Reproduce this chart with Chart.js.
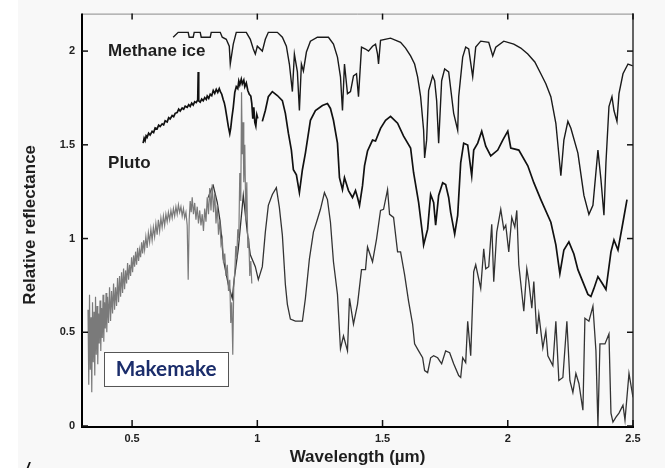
<!DOCTYPE html>
<html><head><meta charset="utf-8">
<script src="https://cdn.jsdelivr.net/npm/chart.js@4.4.0/dist/chart.umd.min.js"></script>
<style>html,body{margin:0;padding:0;background:#fff}canvas{display:block}</style>
</head><body>
<canvas id="c" width="665" height="468"></canvas>
<script>
// ---- data (wavelength in µm, relative reflectance) ----
const xTicks = [0.5, 1, 1.5, 2, 2.5];
const yTicks = [0, 0.5, 1, 1.5, 2];

const methaneIce = [
[0.664,2.074],[0.684,2.100],[0.724,2.100],[0.728,2.074],[0.744,2.074],[0.748,2.100],[0.772,2.100],[0.776,2.074],
[0.812,2.074],[0.816,2.100],[0.852,2.100],[0.860,2.074],[0.876,2.063],[0.888,2.026],[0.892,1.931],[0.904,2.037],
[0.916,2.100],[0.956,2.100],[0.972,2.063],[0.984,2.011],[0.992,1.984],[1.000,2.026],[1.020,2.000],[1.032,2.063],
[1.044,2.100],[1.080,2.100],[1.100,2.074],[1.116,2.026],[1.128,1.931],[1.140,1.784],[1.148,1.984],[1.160,1.889],
[1.168,1.683],[1.176,1.931],[1.184,1.894],[1.196,1.995],[1.212,2.053],[1.240,2.074],[1.284,2.074],[1.304,2.037],
[1.320,1.968],[1.332,1.863],[1.340,1.683],[1.348,1.931],[1.360,1.773],[1.372,1.784],[1.384,1.868],[1.396,1.879],
[1.404,1.757],[1.416,2.021],[1.432,2.011],[1.444,2.000],[1.460,2.026],[1.472,2.037],[1.480,1.984],[1.484,1.931],
[1.492,2.058],[1.532,2.069],[1.572,2.047],[1.592,2.016],[1.612,1.974],[1.628,1.931],[1.640,1.863],[1.652,1.757],
[1.664,1.578],[1.668,1.430],[1.676,1.525],[1.684,1.789],[1.700,1.868],[1.708,1.842],[1.716,1.736],[1.724,1.509],
[1.736,1.842],[1.748,1.905],[1.764,1.889],[1.784,1.668],[1.800,1.578],[1.804,1.757],[1.820,1.968],[1.832,2.021],
[1.844,2.011],[1.860,1.863],[1.872,2.021],[1.892,2.053],[1.924,2.047],[1.940,1.974],[1.952,2.021],[1.984,2.053],
[2.024,2.037],[2.052,2.016],[2.080,1.984],[2.108,1.942],[2.132,1.879],[2.152,1.826],[2.172,1.757],[2.192,1.615],
[2.212,1.335],[2.224,1.525],[2.240,1.625],[2.252,1.588],[2.280,1.456],[2.304,1.230],[2.324,1.129],[2.340,1.177],
[2.360,1.472],[2.372,1.314],[2.384,1.124],[2.392,1.404],[2.404,1.704],[2.416,1.757],[2.424,1.683],[2.436,1.625],
[2.444,1.773],[2.460,1.879],[2.480,1.931],[2.500,1.921]
];

const pluto = [
[0.544,1.509],[0.548,1.535],[0.552,1.522],[0.556,1.548],[0.560,1.540],[0.566,1.562],[0.572,1.552],[0.580,1.572],
[0.586,1.565],[0.592,1.590],[0.600,1.585],[0.606,1.605],[0.612,1.598],[0.620,1.612],[0.626,1.606],[0.632,1.628],
[0.640,1.622],[0.646,1.645],[0.652,1.638],[0.660,1.656],[0.666,1.650],[0.672,1.668],[0.680,1.672],[0.686,1.690],
[0.692,1.680],[0.700,1.696],[0.706,1.690],[0.712,1.706],[0.720,1.700],[0.726,1.714],[0.732,1.705],[0.738,1.722],
[0.744,1.712],[0.750,1.730],[0.756,1.725],[0.762,1.740],[0.764,1.889],[0.766,1.735],[0.772,1.728],[0.778,1.744],
[0.784,1.735],[0.790,1.752],[0.796,1.742],[0.800,1.760],[0.806,1.748],[0.812,1.770],[0.818,1.762],[0.824,1.790],
[0.830,1.774],[0.836,1.796],[0.842,1.780],[0.848,1.800],[0.852,1.785],[0.858,1.770],[0.864,1.740],[0.868,1.725],
[0.872,1.700],[0.878,1.650],[0.884,1.600],[0.890,1.560],[0.894,1.590],[0.898,1.640],[0.904,1.700],[0.910,1.780],
[0.916,1.810],[0.922,1.800],[0.926,1.840],[0.930,1.820],[0.936,1.850],[0.940,1.825],[0.946,1.845],[0.950,1.810],
[0.956,1.830],[0.962,1.790],[0.968,1.770],[0.974,1.760],[0.978,1.720],[0.982,1.640],[0.986,1.700],[0.990,1.620],
[0.994,1.600],[0.998,1.660],[1.002,1.640],[1.010,null],
[1.020,1.625],[1.032,1.683],[1.044,1.757],[1.060,1.784],[1.080,1.763],[1.100,1.736],[1.112,1.668],[1.124,1.562],
[1.136,1.472],[1.144,1.367],[1.156,1.340],[1.168,1.245],[1.180,1.367],[1.192,1.456],[1.212,1.631],[1.232,1.683],
[1.260,1.710],[1.280,1.720],[1.292,1.694],[1.304,1.631],[1.320,1.509],[1.328,1.325],[1.340,1.261],[1.348,1.325],
[1.364,1.256],[1.380,1.219],[1.392,1.256],[1.400,1.219],[1.408,1.177],[1.420,1.282],[1.428,1.388],[1.440,1.467],
[1.460,1.525],[1.472,1.520],[1.492,1.588],[1.512,1.631],[1.532,1.652],[1.560,1.615],[1.584,1.546],[1.612,1.483],
[1.624,1.351],[1.644,1.193],[1.660,1.018],[1.664,0.966],[1.680,1.050],[1.692,1.235],[1.704,1.193],[1.712,1.071],
[1.724,1.230],[1.740,1.298],[1.752,1.288],[1.764,1.219],[1.772,1.140],[1.788,1.024],[1.800,1.124],[1.812,1.404],
[1.824,1.509],[1.840,1.499],[1.856,1.335],[1.864,1.472],[1.880,1.509],[1.896,1.573],[1.912,1.493],[1.932,1.441],
[1.960,1.472],[1.980,1.525],[2.000,1.573],[2.012,1.483],[2.044,1.472],[2.080,1.388],[2.104,1.298],[2.132,1.208],
[2.172,1.087],[2.192,0.966],[2.208,0.813],[2.224,0.939],[2.244,0.982],[2.264,0.918],[2.280,0.834],[2.320,0.702],
[2.332,0.691],[2.344,0.734],[2.360,0.797],[2.380,0.755],[2.392,0.728],[2.412,0.929],[2.424,0.992],[2.440,0.939],
[2.460,1.087],[2.476,1.208]
];

const makemakeNIR = [
[0.804,1.219],[0.816,1.261],[0.824,1.282],[0.840,1.193],[0.852,1.087],[0.864,0.892],[0.884,0.755],[0.900,0.681],
[0.908,0.786],[0.924,0.945],[0.944,1.230],[0.960,1.034],[0.972,0.913],[0.992,0.850],[1.004,0.781],[1.020,0.850],
[1.032,1.034],[1.044,1.177],[1.060,1.235],[1.076,1.272],[1.088,1.166],[1.100,1.018],[1.112,0.755],[1.120,0.649],
[1.132,0.570],[1.152,0.559],[1.180,0.559],[1.192,0.681],[1.208,0.892],[1.224,1.034],[1.240,1.103],[1.252,1.156],
[1.268,1.245],[1.280,1.208],[1.292,1.087],[1.304,0.876],[1.320,0.702],[1.332,0.412],[1.344,0.480],[1.360,0.401],
[1.368,0.681],[1.384,0.544],[1.400,0.649],[1.416,0.834],[1.432,0.834],[1.440,0.955],[1.460,0.876],[1.476,0.997],
[1.492,1.150],[1.504,1.156],[1.520,1.261],[1.528,1.129],[1.544,1.113],[1.560,0.929],[1.572,0.929],[1.588,0.807],
[1.604,0.665],[1.620,0.544],[1.628,0.438],[1.644,0.401],[1.660,0.364],[1.668,0.296],[1.680,0.285],[1.692,0.364],
[1.704,0.375],[1.720,0.364],[1.736,0.332],[1.752,0.401],[1.768,0.391],[1.784,0.332],[1.804,0.269],[1.812,0.259],
[1.820,0.364],[1.832,0.338],[1.840,0.559],[1.852,0.375],[1.864,0.823],[1.872,0.860],[1.892,0.734],[1.904,0.945],
[1.912,0.839],[1.924,0.850],[1.936,1.076],[1.944,0.770],[1.956,1.034],[1.972,1.156],[1.984,1.050],[1.992,1.071],
[2.004,0.929],[2.016,1.113],[2.028,1.061],[2.036,1.150],[2.044,0.860],[2.064,0.612],[2.076,0.839],[2.084,0.770],
[2.096,0.628],[2.104,0.770],[2.116,0.491],[2.124,0.596],[2.140,0.417],[2.152,0.507],[2.160,0.375],[2.180,0.322],
[2.192,0.559],[2.204,0.243],[2.220,0.259],[2.236,0.559],[2.248,0.243],[2.260,0.179],[2.272,0.280],[2.284,0.227],
[2.300,0.084],[2.308,0.575],[2.324,0.559],[2.340,0.639],[2.352,0.401],[2.360,0.000],[2.368,0.438],[2.388,0.438],
[2.404,0.491],[2.412,0.069],[2.420,0.021],[2.432,0.047],[2.444,0.069],[2.460,0.111],[2.468,0.032],[2.484,0.280],
[2.500,0.153]
];

const makemakeVisible = [
[0.324,0.62],[0.327,0.22],[0.330,0.70],[0.333,0.30],[0.336,0.58],[0.339,0.18],[0.342,0.66],[0.345,0.34],
[0.348,0.61],[0.351,0.27],[0.354,0.69],[0.357,0.38],[0.360,0.64],[0.363,0.33],[0.366,0.60],[0.369,0.44],
[0.372,0.67],[0.375,0.40],[0.378,0.63],[0.381,0.47],[0.384,0.70],[0.387,0.45],[0.390,0.66],[0.393,0.52],
[0.396,0.71],[0.399,0.50],[0.402,0.69],[0.406,0.55],[0.410,0.74],[0.414,0.56],[0.418,0.72],[0.422,0.60],
[0.426,0.76],[0.430,0.62],[0.434,0.74],[0.438,0.64],[0.442,0.79],[0.446,0.66],[0.450,0.80],[0.454,0.69],
[0.458,0.82],[0.462,0.71],[0.466,0.84],[0.470,0.73],[0.474,0.83],[0.478,0.76],[0.482,0.87],[0.486,0.78],
[0.490,0.86],[0.494,0.80],[0.498,0.90],[0.502,0.82],[0.506,0.91],[0.510,0.85],[0.514,0.93],[0.518,0.86],
[0.522,0.95],[0.526,0.88],[0.530,0.94],[0.534,0.90],[0.538,0.98],[0.542,0.92],[0.546,0.99],[0.550,0.94],
[0.555,1.01],[0.560,0.95],[0.565,1.03],[0.570,0.98],[0.575,1.05],[0.580,0.99],[0.585,1.06],[0.590,1.01],
[0.595,1.08],[0.600,1.02],[0.605,1.10],[0.610,1.04],[0.615,1.11],[0.620,1.06],[0.625,1.12],[0.630,1.07],
[0.635,1.13],[0.640,1.09],[0.645,1.14],[0.650,1.10],[0.655,1.15],[0.660,1.11],[0.665,1.16],[0.670,1.12],
[0.675,1.17],[0.680,1.13],[0.685,1.18],[0.690,1.14],[0.695,1.17],[0.700,1.12],[0.705,1.16],[0.710,1.11],
[0.715,1.14],[0.720,1.07],[0.724,0.78],[0.728,1.10],[0.732,1.20],[0.736,1.14],[0.740,1.22],[0.745,1.13],
[0.750,1.19],[0.755,1.10],[0.760,1.17],[0.765,1.08],[0.770,1.15],[0.775,1.07],[0.780,1.13],[0.785,1.04],
[0.790,1.16],[0.795,1.09],[0.800,1.22],[0.805,1.13],[0.810,1.27],[0.815,1.15],[0.820,1.29],[0.825,1.14],
[0.830,1.24],[0.835,1.08],[0.840,1.18],[0.845,1.02],[0.850,1.10],[0.855,0.97],[0.860,1.00],[0.865,0.87],
[0.870,0.92],[0.875,0.80],[0.880,0.86],[0.885,0.72],[0.890,0.78],[0.894,0.55],[0.898,0.66],[0.902,0.38],
[0.906,0.75],[0.910,0.82],[0.914,0.96],[0.918,0.90],[0.922,1.05],[0.926,1.00],[0.930,1.35],[0.934,1.20],
[0.937,1.78],[0.940,1.45],[0.943,1.62],[0.946,1.30],[0.950,1.50],[0.954,1.10],[0.958,1.30],[0.962,0.95],
[0.966,1.00],[0.970,0.80],[0.974,0.88],[0.978,0.76]
];

// ---- rendering ----
const toPts = arr => arr.map(([x, y]) => ({x, y}));
const FONT = '"Liberation Sans", Arial, sans-serif';

const deco = {
  id: 'deco',
  beforeDraw(chart) {
    const {ctx, width, height} = chart;
    ctx.save();
    ctx.fillStyle = '#ffffff';
    ctx.fillRect(0, 0, width, height);
    ctx.fillStyle = '#f8f8f8';
    ctx.fillRect(18, 0, width - 18, height);
    ctx.restore();
  },
  afterDraw(chart) {
    const {ctx, chartArea: a, scales: {x, y}} = chart;
    ctx.save();
    // frame
    ctx.lineCap = 'butt';
    ctx.strokeStyle = '#8a8a8a'; ctx.lineWidth = 1;
    ctx.beginPath(); ctx.moveTo(a.left, a.top + 0.5); ctx.lineTo(a.right, a.top + 0.5); ctx.stroke();
    ctx.strokeStyle = '#333'; ctx.lineWidth = 1.5;
    ctx.beginPath(); ctx.moveTo(a.right, a.top); ctx.lineTo(a.right, a.bottom); ctx.stroke();
    ctx.strokeStyle = '#000'; ctx.lineWidth = 2;
    ctx.beginPath(); ctx.moveTo(a.left, a.top); ctx.lineTo(a.left, a.bottom + 1); ctx.lineTo(a.right + 1, a.bottom + 1); ctx.stroke();
    // inward ticks
    ctx.strokeStyle = '#111'; ctx.lineWidth = 1.5;
    xTicks.forEach(v => {
      const px = x.getPixelForValue(v);
      ctx.beginPath(); ctx.moveTo(px, a.bottom); ctx.lineTo(px, a.bottom - 6); ctx.stroke();
      ctx.beginPath(); ctx.moveTo(px, a.top); ctx.lineTo(px, a.top + 6); ctx.stroke();
    });
    yTicks.forEach(v => {
      const py = y.getPixelForValue(v);
      ctx.beginPath(); ctx.moveTo(a.left, py); ctx.lineTo(a.left + 6, py); ctx.stroke();
      ctx.beginPath(); ctx.moveTo(a.right, py); ctx.lineTo(a.right - 6, py); ctx.stroke();
    });
    // series labels
    ctx.fillStyle = '#1e1e1e';
    ctx.font = 'bold 17px ' + FONT;
    ctx.textAlign = 'left'; ctx.textBaseline = 'middle';
    ctx.fillText('Methane ice', x.getPixelForValue(0.404), y.getPixelForValue(2.0));
    ctx.fillText('Pluto', x.getPixelForValue(0.404), y.getPixelForValue(1.40));
    // Makemake box
    const bx0 = x.getPixelForValue(0.388), bx1 = x.getPixelForValue(0.884);
    const by0 = y.getPixelForValue(0.396), by1 = y.getPixelForValue(0.216);
    ctx.fillStyle = '#ffffff';
    ctx.fillRect(bx0, by0, bx1 - bx0, by1 - by0);
    ctx.strokeStyle = '#555'; ctx.lineWidth = 1;
    ctx.strokeRect(Math.round(bx0) + 0.5, Math.round(by0) + 0.5, Math.round(bx1 - bx0), Math.round(by1 - by0));
    ctx.font = 'bold 20px Lato, "Noto Sans", sans-serif';
    const w20 = ctx.measureText('Makemake').width;
    const fs = 20 * 101 / w20;
    ctx.font = 'bold ' + fs.toFixed(1) + 'px Lato, "Noto Sans", sans-serif';
    ctx.fillStyle = '#1b2d6b';
    ctx.textAlign = 'center';
    ctx.fillText('Makemake', (bx0 + bx1) / 2, (by0 + by1) / 2 + 1);
    // axis titles
    ctx.fillStyle = '#1e1e1e';
    ctx.font = 'bold 17px ' + FONT;
    ctx.textAlign = 'center'; ctx.textBaseline = 'middle';
    ctx.fillText('Wavelength (\u00b5m)', (a.left + a.right) / 2, 457);
    ctx.save();
    ctx.translate(30, (a.top + a.bottom) / 2 + 5);
    ctx.rotate(-Math.PI / 2);
    ctx.fillText('Relative reflectance', 0, 0);
    ctx.restore();
    // stray mark at bottom-left
    ctx.font = 'italic bold 16px ' + FONT;
    ctx.textAlign = 'left'; ctx.textBaseline = 'alphabetic';
    ctx.fillStyle = '#111';
    ctx.fillText('/', 25, 474);
    ctx.restore();
  }
};

const tickFont = {family: FONT, weight: 'bold', size: 11};
const lineDs = (label, data, color, width) => ({
  label, data: toPts(data), borderColor: color, borderWidth: width,
  showLine: true, pointRadius: 0, fill: false, spanGaps: false, tension: 0
});

new Chart(document.getElementById('c'), {
  type: 'scatter',
  data: {
    datasets: [
      lineDs('Makemake (visible)', makemakeVisible, '#7a7a7a', 1.2),
      lineDs('Makemake', makemakeNIR, '#333333', 1.3),
      lineDs('Pluto', pluto, '#111111', 1.7),
      lineDs('Methane ice', methaneIce, '#1a1a1a', 1.4)
    ]
  },
  options: {
    responsive: false, animation: false, devicePixelRatio: 1, events: [],
    layout: {padding: {left: 18, right: 32, top: 10, bottom: 0}},
    plugins: {legend: {display: false}, tooltip: {enabled: false}},
    scales: {
      x: {
        type: 'linear', min: 0.3, max: 2.5,
        afterBuildTicks: s => { s.ticks = xTicks.map(v => ({value: v})); },
        afterFit: s => { s.height = 42; },
        grid: {display: false, drawTicks: false},
        border: {display: false},
        ticks: {padding: 6, font: tickFont, color: '#222', autoSkip: false, maxRotation: 0, callback: v => String(v)}
      },
      y: {
        type: 'linear', min: 0, max: 2.2,
        afterBuildTicks: s => { s.ticks = yTicks.map(v => ({value: v})); },
        afterFit: s => { s.width = 64; },
        grid: {display: false, drawTicks: false},
        border: {display: false},
        ticks: {padding: 7, font: tickFont, color: '#222', autoSkip: false, callback: v => String(v)}
      }
    }
  },
  plugins: [deco]
});
</script>
</body></html>
